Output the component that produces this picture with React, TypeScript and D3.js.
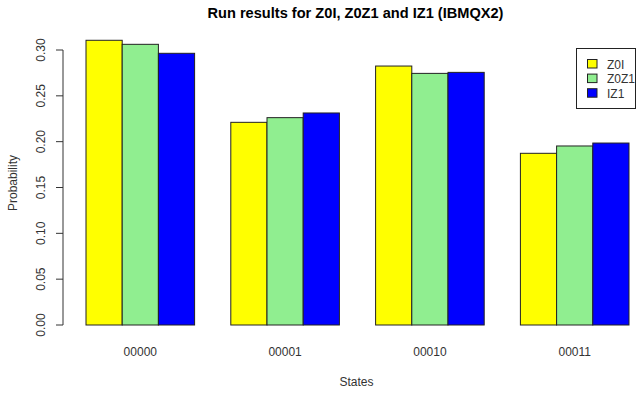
import React from "react";
import * as d3 from "d3";

const states = ["00000", "00001", "00010", "00011"];
const seriesNames = ["Z0I", "Z0Z1", "IZ1"];
const seriesColors = ["#ffff00", "#90ee90", "#0000ff"];
const z0i = [0.3106, 0.2211, 0.2825, 0.1873];
const z0z1 = [0.3062, 0.2262, 0.2745, 0.1953];
const iz1 = [0.2964, 0.2313, 0.2756, 0.1985];
const yTicks = [0, 0.05, 0.1, 0.15, 0.2, 0.25, 0.3];

const W = 637;
const H = 394;
const FONT = "'Liberation Sans', Arial, sans-serif";

export default function App() {
  const series = [z0i, z0z1, iz1];
  // R barplot units: each bar width 1, gap 1 before each group
  const x = d3.scaleLinear().domain([1, 16]).range([86, 629]);
  const y = d3.scaleLinear().domain([0, 0.3]).range([325, 50]);
  // plot region (R extends 4% on each side)
  const cx = x((0.4 + 16.6) / 2);

  return (
    <svg
      width={W}
      height={H}
      style={{ position: "absolute", left: 0, top: 0, background: "#fff" }}
    >
      <text
        x={cx - 2}
        y={18}
        textAnchor="middle"
        fontFamily={FONT}
        fontWeight="bold"
        fontSize={14.6}
        fill="#000"
      >
        Run results for Z0I, Z0Z1 and IZ1 (IBMQX2)
      </text>

      {states.map((s, g) =>
        series.map((vals, k) => {
          const u0 = 1 + g * 4 + k;
          return (
            <rect
              key={`${g}-${k}`}
              x={x(u0)}
              y={y(vals[g])}
              width={x(u0 + 1) - x(u0)}
              height={y(0) - y(vals[g])}
              fill={seriesColors[k]}
              stroke="#222"
              strokeWidth={1}
            />
          );
        })
      )}

      {/* y axis */}
      <line x1={63} x2={63} y1={y(0)} y2={y(0.3)} stroke="#333" strokeWidth={1} />
      {yTicks.map((t) => (
        <g key={t}>
          <line x1={56} x2={63} y1={y(t)} y2={y(t)} stroke="#333" strokeWidth={1} />
          <text
            transform={`translate(45,${y(t)}) rotate(-90)`}
            textAnchor="middle"
            fontFamily={FONT}
            fontSize={12}
            fill="#333"
          >
            {t.toFixed(2)}
          </text>
        </g>
      ))}

      {/* x category labels */}
      {states.map((s, g) => (
        <text
          key={s}
          x={x(1 + g * 4 + 1.5)}
          y={356}
          textAnchor="middle"
          fontFamily={FONT}
          fontSize={12}
          fill="#333"
        >
          {s}
        </text>
      ))}

      <text
        x={cx - 1}
        y={386}
        textAnchor="middle"
        fontFamily={FONT}
        fontSize={12}
        fill="#333"
      >
        States
      </text>
      <text
        transform={`translate(17,183) rotate(-90)`}
        textAnchor="middle"
        fontFamily={FONT}
        fontSize={12}
        fill="#333"
      >
        Probability
      </text>

      {/* legend */}
      <rect x={576.5} y={48.5} width={59} height={60} fill="#fff" stroke="#222" strokeWidth={1} />
      {seriesNames.map((n, k) => (
        <g key={n}>
          <rect
            x={587.5}
            y={59.5 + k * 14.6}
            width={9.5}
            height={8.5}
            fill={seriesColors[k]}
            stroke="#222"
            strokeWidth={1}
          />
          <text
            x={607}
            y={68.5 + k * 14.6}
            fontFamily={FONT}
            fontSize={12}
            fill="#333"
          >
            {n}
          </text>
        </g>
      ))}
    </svg>
  );
}
